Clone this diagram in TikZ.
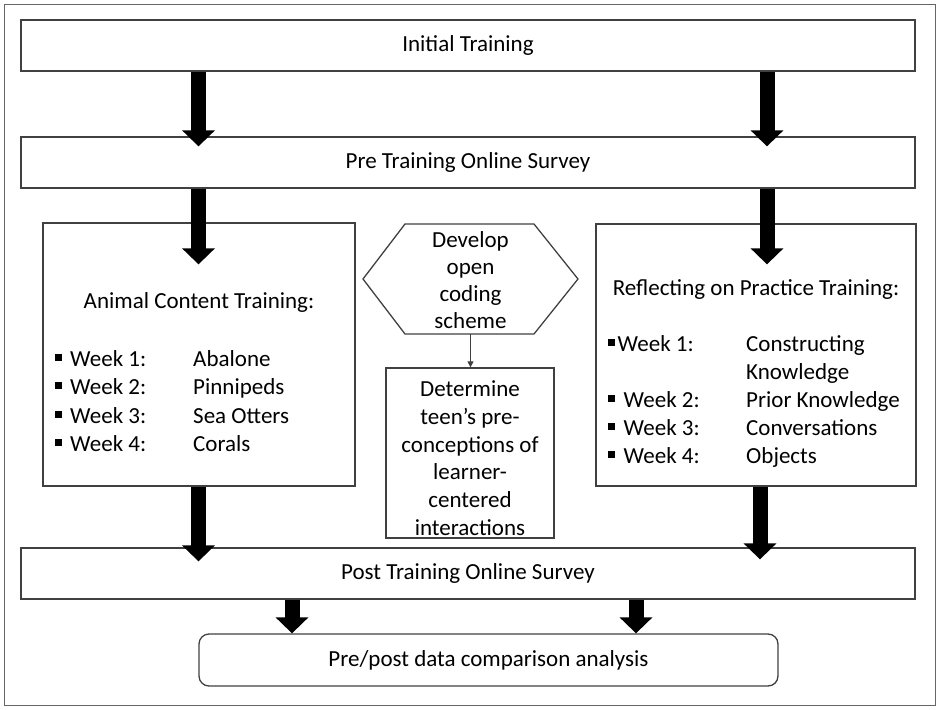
\documentclass[tikz,border=0pt]{standalone}
\usepackage{fontspec}
\setmainfont{Carlito}
\usetikzlibrary{arrows.meta,calc}
\newcommand{\sqbul}{\rule[5.5pt]{7pt}{7pt}}
\newcommand{\sqbulr}{\rule[5.5pt]{6.5pt}{6.5pt}}
\begin{document}
\begin{tikzpicture}[x=1pt,y=-1pt,
  every node/.style={font=\fontsize{23}{27.8}\selectfont, inner sep=0pt, text=black},
  box/.style={draw=black!75, line width=1.3pt},
  bigarrow/.style={line width=15pt, -{Triangle[length=16pt,width=32pt]}},
  smallarrow/.style={line width=1pt, draw=black!75, -{Triangle[length=6pt,width=6pt]}},
  row/.style={anchor=base west}
]
\useasboundingbox (0,0) rectangle (939,709);
\draw[draw=black!60, line width=1pt] (4,5) rectangle (935,705);

% boxes
\node[box, minimum width=894pt, minimum height=51pt] (init) at (468,45.5) {Initial Training};
\node[box, minimum width=894pt, minimum height=51pt] (pre) at (468,162.5) {Pre Training Online Survey};
\node[box, minimum width=312pt, minimum height=263pt] (animal) at (199,354.5) {};
\node[box, minimum width=320pt, minimum height=262pt] (reflect) at (756,355) {};
\node[box, minimum width=894pt, minimum height=51pt] (post) at (468,573.5) {Post Training Online Survey};
\node[box, rounded corners=10pt, minimum width=579pt, minimum height=52pt] (final) at (488.5,660) {Pre/post data comparison analysis};
\node[box, minimum width=168pt, minimum height=170pt, align=center] (det) at (470,453)
  {\rule{0pt}{26pt}Determine\\teen’s pre-\\conceptions of\\learner-\\centered\\interactions};

% hexagon
\draw[box] (363,279) -- (405,224) -- (534,224) -- (578,279) -- (534,334) -- (405,334) -- cycle;
\node[align=center, font=\fontsize{23}{27}\selectfont] (hex) at (470.5,280) {Develop\\open\\coding\\scheme};
\coordinate (hexb) at (470.5,334);
\draw[smallarrow] (hexb) -- (det.north -| hexb);

% animal content
\node[anchor=base] (atitle) at (199,308) {Animal Content Training:};
\node[row] (aw1) at (55,366) {\sqbul\hspace{8pt}Week 1:};
\node[row] (at1) at (193,366) {Abalone};
\node[row] (aw2) at (55,394.5) {\sqbul\hspace{8pt}Week 2:};
\node[row] (at2) at (193,394.5) {Pinnipeds};
\node[row] (aw3) at (55,423) {\sqbul\hspace{8pt}Week 3:};
\node[row] (at3) at (193,423) {Sea Otters};
\node[row] (aw4) at (55,451) {\sqbul\hspace{8pt}Week 4:};
\node[row] (at4) at (193,451) {Corals};

% reflecting
\node[anchor=base] (rtitle) at (756,295) {Reflecting on Practice Training:};
\node[row] (rw1) at (608,351) {\sqbulr\hspace{3pt}Week 1:};
\node[row] (rt1) at (746,351) {Constructing};
\node[row] (rt1b) at (746,379) {Knowledge};
\node[row] (rw2) at (608,407) {\sqbulr\hspace{9pt}Week 2:};
\node[row] (rt2) at (746,407) {Prior Knowledge};
\node[row] (rw3) at (608,435) {\sqbulr\hspace{9pt}Week 3:};
\node[row] (rt3) at (746,435) {Conversations};
\node[row] (rw4) at (608,463) {\sqbulr\hspace{9pt}Week 4:};
\node[row] (rt4) at (746,463) {Objects};

% arrows
\coordinate (xL) at (198.5,0);
\coordinate (xR) at (767,0);
\coordinate (xR2) at (760,0);
\coordinate (xa) at (292,0);
\coordinate (xb) at (636,0);
\draw[bigarrow] (init.south -| xL) -- ($(pre.north -| xL)+(0,10)$);
\draw[bigarrow] (init.south -| xR) -- ($(pre.north -| xR)+(0,10)$);
\draw[bigarrow] (pre.south -| xL) -- ($(animal.north -| xL)+(0,42)$);
\draw[bigarrow] (pre.south -| xR) -- ($(reflect.north -| xR)+(0,41)$);
\draw[bigarrow] (animal.south -| xL) -- ($(post.north -| xL)+(0,14)$);
\draw[bigarrow] (reflect.south -| xR2) -- ($(post.north -| xR2)+(0,12)$);
\draw[bigarrow] (post.south -| xa) -- (final.north -| xa);
\draw[bigarrow] (post.south -| xb) -- (final.north -| xb);
\end{tikzpicture}
\end{document}
